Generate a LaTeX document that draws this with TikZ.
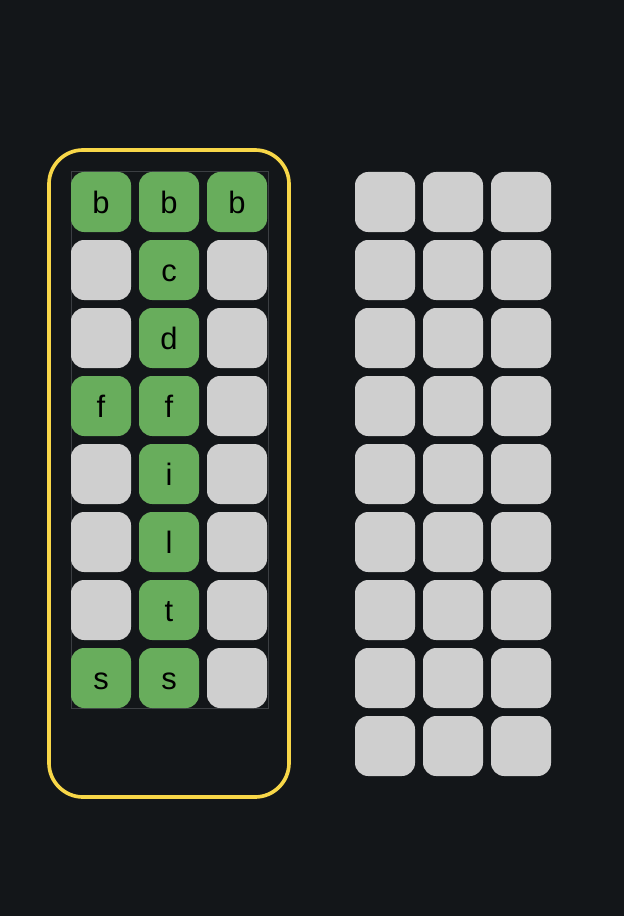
\documentclass[tikz,border=0pt]{standalone}
\usepackage{fontspec}
\setmainfont{Liberation Sans}
\definecolor{bg}{HTML}{131619}
\definecolor{frame}{HTML}{F8D748}
\definecolor{edge}{HTML}{3C3F43}
\definecolor{hit}{HTML}{68AD5C}
\definecolor{blank}{HTML}{CFCFCF}
\tikzset{tile/.style={fill=blank, rounded corners=0.33cm, minimum size=1.5cm, inner sep=0pt,
    text=black, font=\fontsize{22}{26}\selectfont, text height=0.58cm, text depth=0cm}}
\newcommand{\tile}[4]{\edef\lettr{#4}%
    \ifx\lettr\empty \node[tile] (#1) at (#2,#3) {};%
    \else \node[tile, fill=hit] (#1) at (#2,#3) {\lettr};\fi}
\begin{document}
\begin{tikzpicture}
        \fill[bg] (0,0) rectangle (15.6,-22.9);
        \draw[color=frame, line width=2.6pt, rounded corners=0.85cm] (1.225,-3.75) rectangle (7.225,-19.925);
        \draw[color=edge, line width=0.7pt] (1.79,-4.29) rectangle (6.7,-17.7);
        \foreach \a/\b/\c [count=\r from 0] in {b/b/b, /c/, /d/, f/f/, /i/, /l/, /t/, s/s/} {
            \tile{L-\r-0}{2.525}{-5.05-1.7*\r}{\a}
            \tile{L-\r-1}{4.225}{-5.05-1.7*\r}{\b}
            \tile{L-\r-2}{5.925}{-5.05-1.7*\r}{\c}
        }
        \foreach \r in {0,...,8} {\foreach \k in {0,1,2} {\node[tile] (R-\r-\k) at ({9.625+1.7*\k},{-5.05-1.7*\r}) {};}}
    \end{tikzpicture}
\end{document}
